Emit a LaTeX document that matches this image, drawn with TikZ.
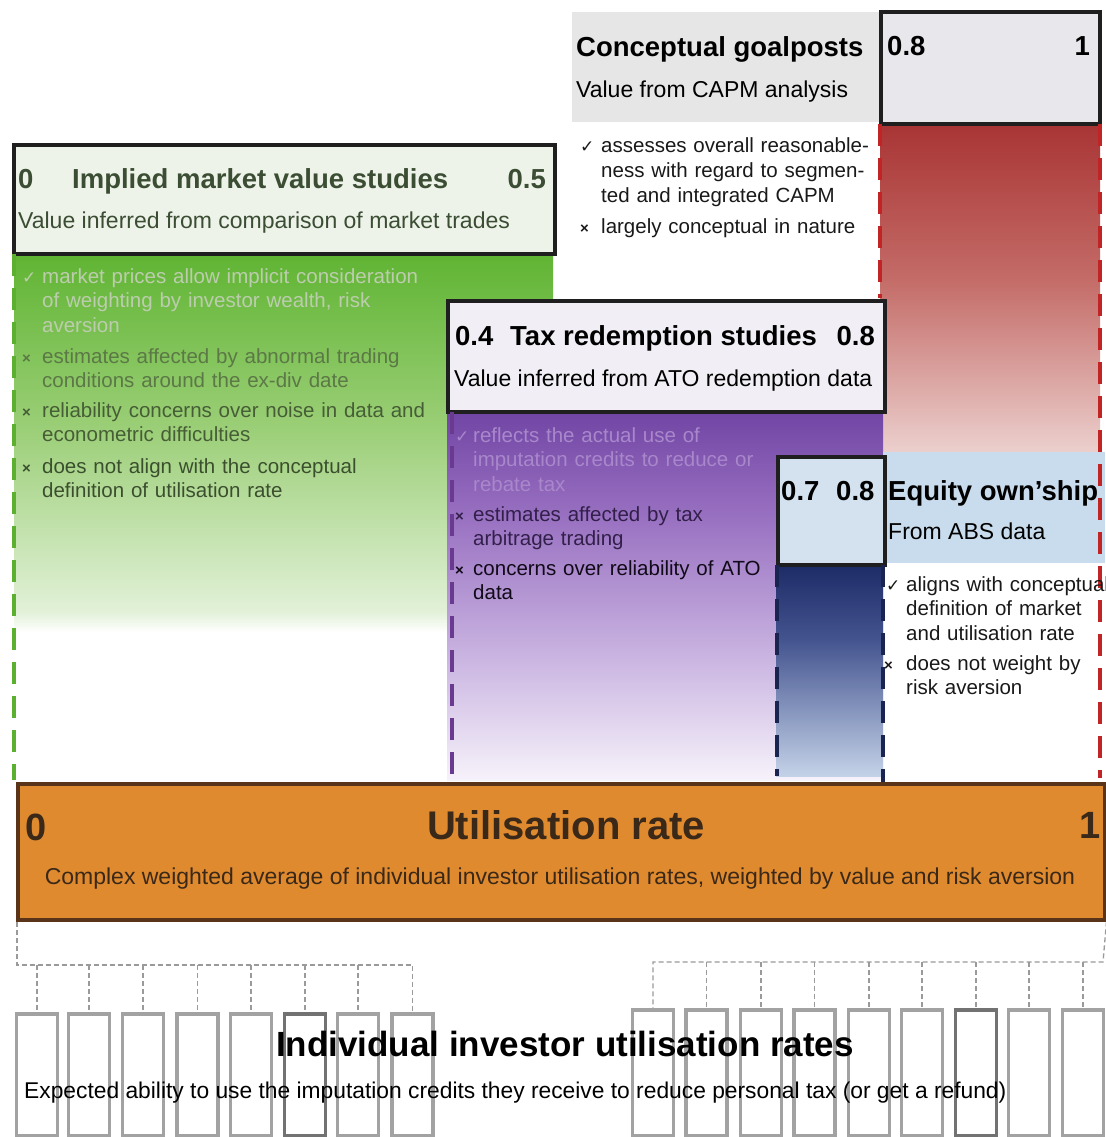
\documentclass[tikz,border=0pt]{standalone}
\usepackage{fontspec}
\setmainfont{Liberation Sans}
\newfontfamily\symf{DejaVu Sans}
\newcommand{\ck}{{\symf\fontsize{17}{20}\selectfont ✓}}
\newcommand{\xx}{{\fontsize{15}{15}\selectfont\bfseries ×}}
\newcommand{\bl}[3]{\llap{\makebox[#1pt][l]{#2}}#3}
\definecolor{Ga}{HTML}{5FB432}\definecolor{Gb}{HTML}{9CCF78}\definecolor{Gc}{HTML}{E2F1D8}
\definecolor{Ra}{HTML}{A83434}\definecolor{Rb}{HTML}{C46C68}\definecolor{Rc}{HTML}{ECD0CE}
\definecolor{Pa}{HTML}{7044A4}\definecolor{Pb}{HTML}{9A72C2}\definecolor{Pc}{HTML}{CBB6E2}\definecolor{Pd}{HTML}{F6F2FA}
\definecolor{Ba}{HTML}{1C2A66}\definecolor{Bb}{HTML}{44548F}\definecolor{Bc}{HTML}{C4D2E8}
\definecolor{EQ}{HTML}{C9DCEE}\definecolor{EQbox}{HTML}{D4E2EF}
\definecolor{GPbg}{HTML}{E6E6E6}\definecolor{GPbox}{HTML}{E8E8EC}
\definecolor{IMbox}{HTML}{EEF3EA}\definecolor{TXbox}{HTML}{F1EFF5}
\definecolor{ORf}{HTML}{E08A2F}\definecolor{ORd}{HTML}{5A3418}
\definecolor{Gtxt}{HTML}{3B4D33}\definecolor{Utxt}{HTML}{3A2818}
\definecolor{Gfaint}{HTML}{BCCDAE}
\definecolor{Gdash}{HTML}{5CB030}\definecolor{Pdash}{HTML}{6A3A90}\definecolor{Bdash}{HTML}{1A2450}\definecolor{Rdash}{HTML}{C02424}
\definecolor{InvG}{HTML}{A2A2A2}\definecolor{InvD}{HTML}{727272}\definecolor{ConnG}{HTML}{9A9A9A}
\begin{document}
\begin{tikzpicture}[x=1pt,y=-1pt,
  bx/.style={draw=black!88,line width=4,inner sep=0,anchor=north west},
  hdr/.style={font=\fontsize{27.5}{30}\selectfont\bfseries,anchor=base west,inner sep=0},
  sub/.style={font=\fontsize{23}{26}\selectfont,anchor=base west,inner sep=0},
  bul/.style={font=\fontsize{20.5}{24.5}\selectfont,anchor=base west,inner sep=0,align=left},
  coldash/.style={line width=4.5,dash pattern=on 22 off 12},
  inv/.style={draw=InvG,line width=3.5,fill=white,inner sep=0,anchor=north,minimum width=41},
  conn/.style={draw=ConnG,line width=1.3,dash pattern=on 5 off 3}]
\useasboundingbox (0,0) rectangle (1105,1137);
\fill[white] (0,0) rectangle (1105,1137);
% green column
\shade[top color=Ga,bottom color=Gb] (14,252) rectangle (553,430);
\shade[top color=Gb,bottom color=Gc] (14,430) rectangle (553,612);
\shade[top color=Gc,bottom color=white] (14,612) rectangle (553,632);
% red column
\shade[top color=Ra,bottom color=Rb] (880,122) rectangle (1100,280);
\shade[top color=Rb,bottom color=Rc] (880,280) rectangle (1100,453);
% goalposts
\fill[GPbg] (572,12) rectangle (879,122);
\node[bx,fill=GPbox,minimum width=219,minimum height=112] (gp) at (879,10) {};
% implied market value box
\node[bx,fill=IMbox,minimum width=541,minimum height=109] (im) at (12,143) {};
% purple column
\shade[top color=Pa,bottom color=Pb] (447,410) rectangle (883,520);
\shade[top color=Pb,bottom color=Pc] (447,520) rectangle (883,660);
\shade[top color=Pc,bottom color=Pd] (447,660) rectangle (883,780);
% tax box
\node[bx,fill=TXbox,minimum width=437,minimum height=111] (tx) at (446,299) {};
% blue column
\shade[top color=Ba,bottom color=Bb] (776,563) rectangle (883,640);
\shade[top color=Bb,bottom color=Bc] (776,640) rectangle (883,776);
% equity band and box
\fill[EQ] (883,452) rectangle (1105,563);
\node[bx,fill=EQbox,minimum width=107,minimum height=108] (eq) at (776,455) {};
% dashed column edges
\draw[coldash,Gdash] (14,254) -- (14,780);
\draw[coldash,Pdash] (452,412) -- (452,782);
\draw[coldash,Bdash,line width=4] (777,565) -- (777,776);
\draw[coldash,Bdash,line width=4] (883,565) -- (883,790);
\draw[coldash,Rdash,line width=4] (1100,124) -- (1100,778);
\draw[coldash,Rdash,line width=4] (880,124) -- (880,298);
% utilisation rate box
\node[draw=ORd,line width=3.5,fill=ORf,inner sep=0,anchor=north west,minimum width=1087,minimum height=136] (util) at (16,782) {};
% texts: goalposts
\node[hdr] (gpt) at (576,57) {Conceptual goalposts};
\node[sub] (gps) at (576,98) {Value from CAPM analysis};
\node[hdr] (gpl) at (887,56) {0.8};
\node[hdr,anchor=base east] (gpr) at (1090,56) {1};
\node[bul,text=black!90,text width=290] (gb1) at (601,153) {\bl{21}{\ck}{assesses overall reasonable-\\ness with regard to segmen-\\ted and integrated CAPM}};
\node[bul,text=black!90,text width=290] (gb2) at (601,233) {\bl{21}{\xx}{largely conceptual in nature}};
% implied
\node[hdr,text=Gtxt] (iml) at (18,188) {0};
\node[hdr,text=Gtxt] (imt) at (72,188) {Implied market value studies};
\node[hdr,text=Gtxt,anchor=base east] (imr) at (546,188) {0.5};
\node[sub,text=Gtxt] (ims) at (18,228) {Value inferred from comparison of market trades};
\node[bul,text=Gfaint,text width=410] (ib1) at (42,283) {\bl{20}{\ck}{market prices allow implicit consideration\\of weighting by investor wealth, risk\\aversion}};
\node[bul,text=black!42!Gb,text width=410] (ib2) at (42,363) {\bl{20}{\xx}{estimates affected by abnormal trading\\conditions around the ex-div date}};
\node[bul,text=black!55!Gb,text width=410] (ib3) at (42,417) {\bl{20}{\xx}{reliability concerns over noise in data and\\econometric difficulties}};
\node[bul,text=black!62!Gb,text width=410] (ib4) at (42,473) {\bl{20}{\xx}{does not align with the conceptual\\definition of utilisation rate}};
% tax
\node[hdr] (txl) at (455,345) {0.4};
\node[hdr] (txt) at (510,345) {Tax redemption studies};
\node[hdr,anchor=base east] (txr) at (875,345) {0.8};
\node[sub] (txs) at (454,386) {Value inferred from ATO redemption data};
\node[bul,text=Pb!85!white,text width=300] (tb1) at (473,442) {\bl{18}{\ck}{reflects the actual use of\\imputation credits to reduce or\\rebate tax}};
\node[bul,text=Pa!45!black,text width=300] (tb2) at (473,521) {\bl{18}{\xx}{estimates affected by tax\\arbitrage trading}};
\node[bul,text=Pa!15!black,text width=300] (tb3) at (473,575) {\bl{18}{\xx}{concerns over reliability of ATO\\data}};
% equity
\node[hdr] (eql) at (781,500) {0.7};
\node[hdr] (eqr) at (836,500) {0.8};
\node[hdr] (eqt) at (888,500) {Equity own’ship};
\node[sub] (eqs) at (888,539) {From ABS data};
\node[bul,text=black!90,text width=220] (eb1) at (906,591) {\bl{20}{\ck}{aligns with conceptual\\definition of market\\and utilisation rate}};
\node[bul,text=black!90,text width=220] (eb2) at (906,670) {\bl{22}{\xx}{does not weight by\\risk aversion}};
% utilisation texts
\node[font=\fontsize{38}{40}\selectfont\bfseries,text=Utxt,anchor=base west,inner sep=0] (u0) at (25,840) {0};
\node[font=\fontsize{40}{44}\selectfont\bfseries,text=Utxt,anchor=base,inner sep=0] (ut) at (566,839) {Utilisation rate};
\node[font=\fontsize{38}{40}\selectfont\bfseries,text=Utxt,anchor=base east,inner sep=0] (u1) at (1101,838) {1};
\node[font=\fontsize{23}{26}\selectfont,text=Utxt,anchor=base,inner sep=0] (us) at (560,884) {Complex weighted average of individual investor utilisation rates, weighted by value and risk aversion};
% individual investor boxes
\foreach \i/\cx in {1/37,2/89,3/143,4/197.5,5/251,6/305,7/358,8/412.5}
  \node[inv,minimum height=122] (inv\i) at (\cx,1012) {};
\foreach \i/\cx in {1/653,2/706.5,3/761,4/814.5,5/869,6/922,7/976,8/1029,9/1083}
  \node[inv,minimum height=126] (invr\i) at (\cx,1008) {};
\node[inv,draw=InvD,minimum height=122] (inv6d) at (inv6.north) {};
\node[inv,draw=InvD,minimum height=126] (invr7d) at (invr7.north) {};
% connectors
\coordinate (busL) at (17,965);
\coordinate (busR) at (1103,962);
\draw[conn] ([xshift=1]util.south west) -- (busL) -| (inv8.north);
\foreach \i in {1,...,7} \draw[conn] (inv\i.north |- busL) -- (inv\i.north);
\draw[conn] (util.south east) -- (busR) -| (invr1.north);
\foreach \i in {2,...,9} \draw[conn] (invr\i.north |- busR) -- (invr\i.north);
% individual texts
\node[font=\fontsize{35}{38}\selectfont\bfseries,anchor=base,inner sep=0] (it) at (565,1056) {Individual investor utilisation rates};
\node[font=\fontsize{22.8}{26}\selectfont,anchor=base west,inner sep=0] (is) at (24,1098) {Expected ability to use the imputation credits they receive to reduce personal tax (or get a refund)};
\end{tikzpicture}
\end{document}
